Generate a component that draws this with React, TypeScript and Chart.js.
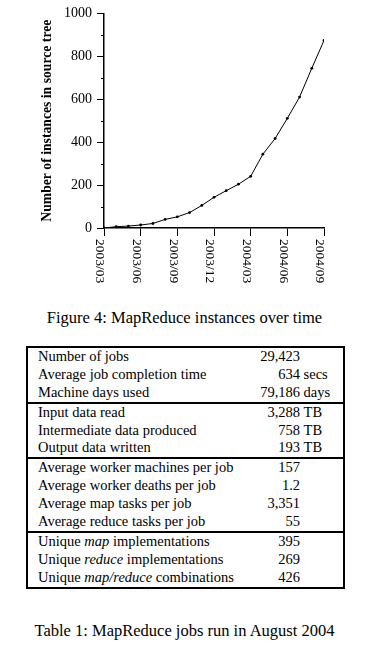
import React, { useEffect, useRef } from "react";
import { Chart, registerables } from "chart.js";

Chart.register(...registerables);

// ---- chart data ----
const months = [
  "2003/03", "2003/04", "2003/05", "2003/06", "2003/07", "2003/08", "2003/09",
  "2003/10", "2003/11", "2003/12", "2004/01", "2004/02", "2004/03", "2004/04",
  "2004/05", "2004/06", "2004/07", "2004/08", "2004/09",
];
const instances = [0, 6, 9, 14, 21, 40, 52, 72, 105, 143, 174, 204, 241, 344, 417, 511, 610, 744, 874];
const yMinorTicks = [100, 300, 500, 700, 900];
const yTitle = "Number of instances in source tree";
const figureCaption = "Figure 4: MapReduce instances over time";

// ---- table data ----
const rowLabels = [
  "Number of jobs",
  "Average job completion time",
  "Machine days used",
  "Input data read",
  "Intermediate data produced",
  "Output data written",
  "Average worker machines per job",
  "Average worker deaths per job",
  "Average map tasks per job",
  "Average reduce tasks per job",
  "Unique *map* implementations",
  "Unique *reduce* implementations",
  "Unique *map/reduce* combinations",
];
const rowNumbers = ["29,423", "634", "79,186", "3,288", "758", "193", "157", "1.2", "3,351", "55", "395", "269", "426"];
const rowUnits = ["", "secs", "days", "TB", "TB", "TB", "", "", "", "", "", "", ""];
const groupSizes = [3, 3, 4, 3];
const tableCaption = "Table 1: MapReduce jobs run in August 2004";

const SERIF = '"Liberation Serif", "Times New Roman", Times, serif';

function renderLabel(label: string) {
  const parts = label.split("*");
  return parts.map((p, i) =>
    i % 2 === 1 ? <i key={i}>{p}</i> : <React.Fragment key={i}>{p}</React.Fragment>
  );
}

export default function App() {
  const canvasRef = useRef<HTMLCanvasElement>(null);

  useEffect(() => {
    const canvas = canvasRef.current;
    if (!canvas) return;

    const axisExtras = {
      id: "axisExtras",
      afterDraw(chart: any) {
        const { ctx, chartArea, scales } = chart;
        const ys = scales.y;
        const xs = scales.x;
        ctx.save();
        ctx.strokeStyle = "#000";
        ctx.lineWidth = 1;
        yMinorTicks.forEach((v) => {
          const py = Math.round(ys.getPixelForValue(v)) + 0.5;
          ctx.beginPath();
          ctx.moveTo(chartArea.left - 3, py);
          ctx.lineTo(chartArea.left, py);
          ctx.stroke();
        });
        ctx.fillStyle = "#000";
        ctx.font = `13.5px ${SERIF}`;
        ctx.textAlign = "left";
        ctx.textBaseline = "middle";
        xs.ticks.forEach((t: any) => {
          const label = months[t.value];
          if (!label) return;
          const px = xs.getPixelForValue(t.value);
          ctx.save();
          ctx.translate(px - 4, chartArea.bottom + 11);
          ctx.rotate(Math.PI / 2);
          ctx.fillText(label, 0, 0);
          ctx.restore();
        });
        ctx.restore();
      },
    };

    const chart = new Chart(canvas, {
      type: "line",
      data: {
        datasets: [
          {
            data: instances.map((v, i) => ({ x: i, y: v })),
            borderColor: "#000",
            borderWidth: 1,
            pointRadius: 1.4,
            pointBackgroundColor: "#000",
            pointBorderWidth: 0,
            tension: 0,
          },
        ],
      },
      options: {
        animation: false,
        responsive: false,
        devicePixelRatio: 1,
        layout: { padding: { left: 0, top: 9, right: 49, bottom: 0 } },
        plugins: { legend: { display: false }, tooltip: { enabled: false } },
        scales: {
          x: {
            type: "linear",
            min: 0,
            max: months.length - 1,
            ticks: { stepSize: 3, display: false },
            grid: { drawOnChartArea: false, tickLength: 8, tickColor: "#000", tickWidth: 1 },
            border: { color: "#000", width: 1.5 },
            afterFit: (s: any) => {
              s.height = 72;
            },
          },
          y: {
            min: 0,
            max: 1000,
            ticks: {
              stepSize: 200,
              color: "#000",
              font: { family: SERIF, size: 14 },
              padding: 5,
              callback: (v: any) => String(v),
            },
            grid: { drawOnChartArea: false, tickLength: 7, tickColor: "#000", tickWidth: 1 },
            border: { color: "#000", width: 1.5 },
            title: {
              display: true,
              text: yTitle,
              color: "#000",
              font: { family: SERIF, size: 13.7, weight: "bold" },
              padding: { top: 38.8, bottom: 0 },
            },
            afterFit: (s: any) => {
              s.width = 104;
            },
          },
        },
      } as any,
      plugins: [axisExtras],
    });

    return () => chart.destroy();
  }, []);

  // build grouped rows
  const groups: number[][] = [];
  let idx = 0;
  groupSizes.forEach((n) => {
    const g: number[] = [];
    for (let k = 0; k < n; k++) g.push(idx++);
    groups.push(g);
  });

  const rowH = 17.9;

  return (
    <div
      style={{
        position: "absolute",
        left: 0,
        top: 0,
        width: 373,
        height: 647,
        overflow: "hidden",
        background: "#fff",
        fontFamily: SERIF,
        color: "#000",
      }}
    >
      <canvas
        ref={canvasRef}
        width={373}
        height={300}
        style={{ position: "absolute", left: 0, top: 0, width: 373, height: 300, display: "block" }}
      />
      <div
        style={{
          position: "absolute",
          left: 0,
          top: 308,
          width: 369,
          textAlign: "center",
          fontSize: 16.5,
          lineHeight: "20px",
          whiteSpace: "nowrap",
        }}
      >
        {figureCaption}
      </div>

      <div
        style={{
          position: "absolute",
          left: 26,
          top: 346,
          width: 315,
          border: "2px solid #000",
          fontSize: 14.5,
          lineHeight: `${rowH}px`,
        }}
      >
        {groups.map((g, gi) => (
          <div key={gi} style={{ borderTop: gi === 0 ? "none" : "2px solid #000" }}>
            {g.map((r) => (
              <div key={r} style={{ position: "relative", height: rowH, whiteSpace: "nowrap" }}>
                <span style={{ position: "absolute", left: 10 }}>{renderLabel(rowLabels[r])}</span>
                <span style={{ position: "absolute", right: 43, textAlign: "right" }}>{rowNumbers[r]}</span>
                {rowUnits[r] ? (
                  <span style={{ position: "absolute", left: 275.6 }}>{rowUnits[r]}</span>
                ) : null}
              </div>
            ))}
          </div>
        ))}
      </div>

      <div
        style={{
          position: "absolute",
          left: 0,
          top: 620.5,
          width: 369,
          textAlign: "center",
          fontSize: 16.5,
          lineHeight: "20px",
          whiteSpace: "nowrap",
        }}
      >
        {tableCaption}
      </div>
    </div>
  );
}
